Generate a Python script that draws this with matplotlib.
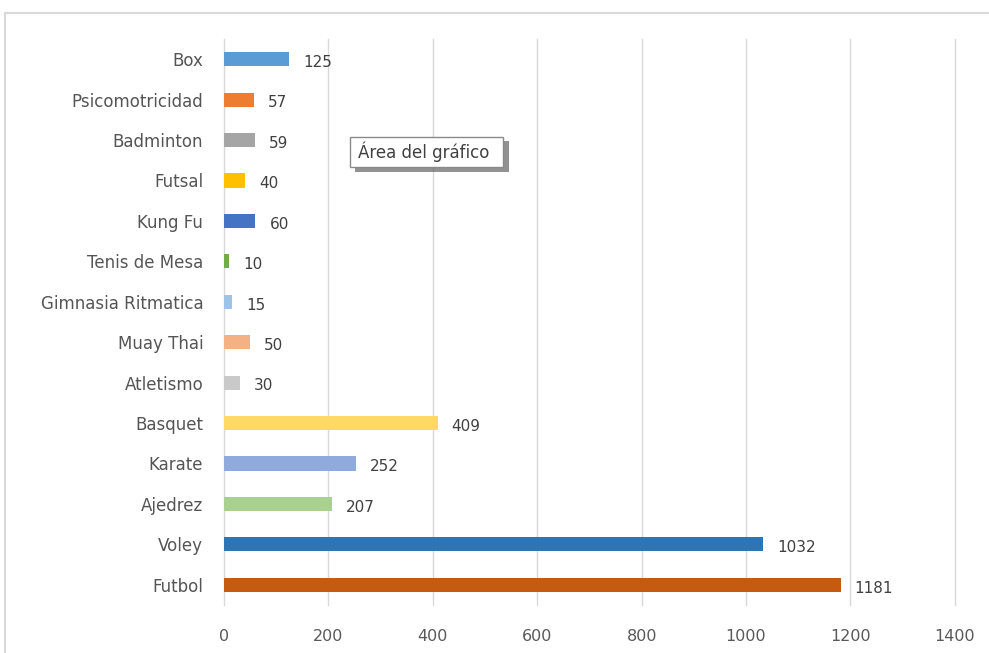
import matplotlib.pyplot as plt
from matplotlib.patches import Rectangle

# Data (top to bottom in the picture)
deportes = ['Box', 'Psicomotricidad', 'Badminton', 'Futsal', 'Kung Fu',
            'Tenis de Mesa', 'Gimnasia Ritmatica', 'Muay Thai', 'Atletismo',
            'Basquet', 'Karate', 'Ajedrez', 'Voley', 'Futbol']
valores = [125, 57, 59, 40, 60, 10, 15, 50, 30, 409, 252, 207, 1032, 1181]
colores = ['#5B9BD5', '#ED7D31', '#A5A5A5', '#FFC000', '#4472C4',
           '#70AD47', '#9DC3E6', '#F4B183', '#C9C9C9', '#FFD966',
           '#8FAADC', '#A9D18E', '#2E75B6', '#C55A11']
xticks = [0, 200, 400, 600, 800, 1000, 1200, 1400]

fig = plt.figure(figsize=(9.89, 6.53), dpi=100)
ax = fig.add_axes([0.2265, 0.0735, 0.739, 0.8668])

def px(x, y):
    # pixel position -> figure fraction
    return (x / 989, 1 - y / 653)

# outer chart border
fig.patches.append(Rectangle((5/989, -0.1), 1.2, 1 - 13/653 + 0.1,
                             transform=fig.transFigure, fill=False,
                             edgecolor='#d9d9d9', linewidth=1.5))

ypos = list(range(len(deportes)))
ax.barh(ypos, valores, height=0.35, color=colores, zorder=3)

for y, v in zip(ypos, valores):
    ax.text(v + 27, y + 0.08, str(v), va='center', ha='left',
            fontsize=11, color='#404040', family='DejaVu Sans')

ax.set_ylim(len(deportes) - 0.5, -0.5)
ax.set_xlim(0, 1400)
ax.set_yticks(ypos)
ax.set_yticklabels(deportes, fontsize=12, color='#555555',
                   family='DejaVu Sans')
ax.set_xticks(xticks)
ax.set_xticklabels([str(t) for t in xticks], fontsize=11.5, color='#595959',
                   family='DejaVu Sans')
ax.tick_params(length=0)
ax.tick_params(axis='y', pad=15)
ax.tick_params(axis='x', pad=17)
ax.grid(axis='x', color='#d9d9d9', linewidth=1, zorder=0)
for gl in ax.get_xgridlines():
    gl.set_clip_on(False)
for s in ax.spines.values():
    s.set_visible(False)

# "Área del gráfico" tooltip with shadow
fig.patches.append(Rectangle(px(355, 172), 154/989, 31/653,
                             transform=fig.transFigure, facecolor='#6e6e6e',
                             edgecolor='none', alpha=0.75, zorder=5))
fig.patches.append(Rectangle(px(350, 167), 153/989, 30/653,
                             transform=fig.transFigure, facecolor='white',
                             edgecolor='#8a8a8a', linewidth=1, zorder=6))
fig.text(*px(358, 152), 'Área del gráfico', fontsize=12,
         color='#404040', family='DejaVu Sans', va='center', ha='left',
         zorder=7)

fig.savefig('out.png', dpi=100)
